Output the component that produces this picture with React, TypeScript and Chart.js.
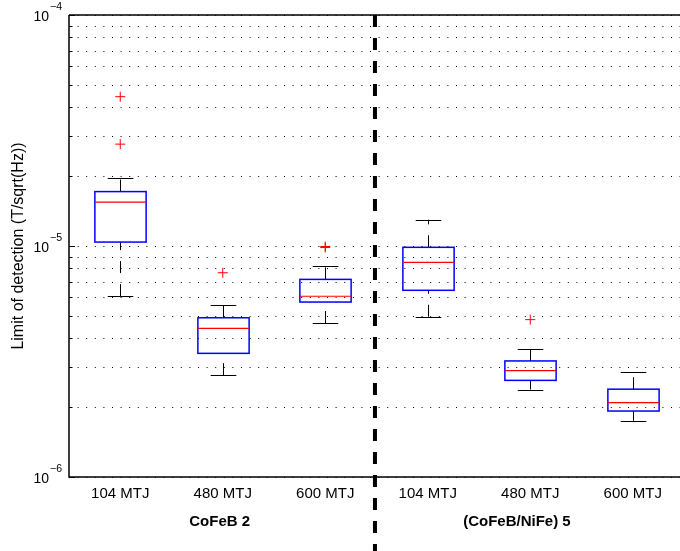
import React, { useEffect, useRef } from 'react';
import { Chart, registerables } from 'chart.js';

Chart.register(...registerables);

// ---------- data ----------
const categories = ['104 MTJ', '480 MTJ', '600 MTJ', '104 MTJ', '480 MTJ', '600 MTJ'];
const groups = ['CoFeB 2', '(CoFeB/NiFe) 5'];
const whiskerLow = [6.07e-6, 2.76e-6, 4.64e-6, 4.94e-6, 2.39e-6, 1.75e-6];
const q1 = [1.04e-5, 3.43e-6, 5.72e-6, 6.43e-6, 2.62e-6, 1.93e-6];
const median = [1.55e-5, 4.4e-6, 6.06e-6, 8.5e-6, 2.89e-6, 2.1e-6];
const q3 = [1.72e-5, 4.89e-6, 7.17e-6, 9.87e-6, 3.18e-6, 2.4e-6];
const whiskerHigh = [1.96e-5, 5.55e-6, 8.17e-6, 1.3e-5, 3.58e-6, 2.84e-6];
const outlierCategory = [0, 0, 1, 2, 2, 4];
const outlierValue = [4.43e-5, 2.76e-5, 7.66e-6, 9.85e-6, 9.95e-6, 4.8e-6];
const yMajorTicks = [1e-6, 1e-5, 1e-4];
const yMajorExponents = ['−6', '−5', '−4'];
const yGridValues = [
  1e-6, 2e-6, 3e-6, 4e-6, 5e-6, 6e-6, 7e-6, 8e-6, 9e-6,
  1e-5, 2e-5, 3e-5, 4e-5, 5e-5, 6e-5, 7e-5, 8e-5, 9e-5, 1e-4,
];
const yTitle = 'Limit of detection (T/sqrt(Hz))';

// ---------- layout constants ----------
const FONT = "'Liberation Sans', Arial, Helvetica, sans-serif";
const GROUP_LABEL_AT = [0.97, 3.87];
const SEPARATOR_AT = 2.485;

const boxPlugin = {
  id: 'boxplotDraw',
  beforeDatasetsDraw(chart: any) {
    const { ctx, chartArea: a, scales } = chart;
    const x = scales.x;
    const y = scales.y;
    ctx.save();
    // dotted grid
    ctx.strokeStyle = '#000';
    ctx.lineWidth = 1;
    ctx.setLineDash([1, 7.6]);
    for (const v of yGridValues) {
      const py = Math.round(y.getPixelForValue(v)) + 0.5;
      ctx.beginPath();
      ctx.moveTo(a.left, py);
      ctx.lineTo(a.right, py);
      ctx.stroke();
    }
    ctx.setLineDash([]);
    // inner ticks on left axis
    for (const v of yGridValues) {
      const py = Math.round(y.getPixelForValue(v)) + 0.5;
      const len = yMajorTicks.includes(v) ? 6 : 3.5;
      ctx.beginPath();
      ctx.moveTo(a.left, py);
      ctx.lineTo(a.left + len, py);
      ctx.stroke();
    }
    // boxes
    categories.forEach((_, i) => {
      const cx = Math.round(x.getPixelForValue(i)) + 0.5;
      const half = x.getPixelForValue(i + 0.25) - x.getPixelForValue(i);
      const capHalf = half / 2;
      const pLow = y.getPixelForValue(whiskerLow[i]);
      const pQ1 = y.getPixelForValue(q1[i]);
      const pMed = y.getPixelForValue(median[i]);
      const pQ3 = y.getPixelForValue(q3[i]);
      const pHigh = y.getPixelForValue(whiskerHigh[i]);
      // whiskers (dashed, drawn upward)
      ctx.strokeStyle = '#000';
      ctx.lineWidth = 1;
      ctx.setLineDash([12, 11]);
      ctx.beginPath();
      ctx.moveTo(cx, pLow);
      ctx.lineTo(cx, pQ1);
      ctx.stroke();
      ctx.beginPath();
      ctx.moveTo(cx, pQ3);
      ctx.lineTo(cx, pHigh);
      ctx.stroke();
      ctx.setLineDash([]);
      // caps
      ctx.beginPath();
      ctx.moveTo(cx - capHalf, Math.round(pLow) + 0.5);
      ctx.lineTo(cx + capHalf, Math.round(pLow) + 0.5);
      ctx.moveTo(cx - capHalf, Math.round(pHigh) + 0.5);
      ctx.lineTo(cx + capHalf, Math.round(pHigh) + 0.5);
      ctx.stroke();
      // box
      ctx.strokeStyle = '#0000ff';
      ctx.lineWidth = 1.5;
      ctx.strokeRect(cx - half, pQ3, half * 2, pQ1 - pQ3);
      // median
      ctx.strokeStyle = '#ff0000';
      ctx.lineWidth = 1.2;
      ctx.beginPath();
      ctx.moveTo(cx - half, pMed);
      ctx.lineTo(cx + half, pMed);
      ctx.stroke();
    });
    ctx.restore();
  },
  afterDraw(chart: any) {
    const { ctx, chartArea: a, scales } = chart;
    const x = scales.x;
    const y = scales.y;
    ctx.save();
    // axes
    ctx.strokeStyle = '#000';
    ctx.lineWidth = 1.5;
    ctx.beginPath();
    ctx.moveTo(a.left, a.top);
    ctx.lineTo(a.right, a.top);
    ctx.moveTo(a.left, a.top);
    ctx.lineTo(a.left, a.bottom);
    ctx.lineTo(a.right, a.bottom);
    ctx.stroke();
    // separator
    const sx = x.getPixelForValue(SEPARATOR_AT);
    ctx.lineWidth = 4;
    ctx.setLineDash([12, 11]);
    ctx.beginPath();
    ctx.moveTo(sx, a.top);
    ctx.lineTo(sx, chart.height);
    ctx.stroke();
    ctx.setLineDash([]);
    // x labels
    ctx.fillStyle = '#000';
    ctx.textAlign = 'center';
    ctx.textBaseline = 'middle';
    ctx.font = `15px ${FONT}`;
    categories.forEach((c, i) => {
      ctx.fillText(c, x.getPixelForValue(i), a.bottom + 17);
    });
    ctx.font = `bold 15px ${FONT}`;
    groups.forEach((g, i) => {
      ctx.fillText(g, x.getPixelForValue(GROUP_LABEL_AT[i]), a.bottom + 45);
    });
    // y tick labels
    ctx.textBaseline = 'alphabetic';
    yMajorTicks.forEach((v, i) => {
      const py = y.getPixelForValue(v);
      ctx.font = `14px ${FONT}`;
      ctx.textAlign = 'right';
      ctx.fillText('10', a.left - 20, py + 5.5);
      ctx.font = `10.5px ${FONT}`;
      ctx.textAlign = 'left';
      ctx.fillText(yMajorExponents[i], a.left - 19, py - 5);
    });
    // y title
    ctx.translate(18.5, (a.top + a.bottom) / 2);
    ctx.rotate(-Math.PI / 2);
    ctx.textAlign = 'center';
    ctx.textBaseline = 'middle';
    ctx.font = `16px ${FONT}`;
    ctx.fillText(yTitle, 0, 0);
    ctx.restore();
  },
};

export default function App() {
  const ref = useRef<HTMLCanvasElement | null>(null);
  useEffect(() => {
    if (!ref.current) return;
    const chart = new Chart(ref.current, {
      type: 'scatter',
      data: {
        datasets: [
          {
            data: outlierCategory.map((c, i) => ({ x: c, y: outlierValue[i] })),
            pointStyle: 'cross',
            radius: 5,
            borderColor: '#ff0000',
            backgroundColor: '#ff0000',
            borderWidth: 1,
          },
        ],
      },
      options: {
        responsive: false,
        animation: false,
        events: [],
        layout: { padding: { left: 69, top: 15, right: 3.5, bottom: 74 } },
        plugins: { legend: { display: false }, tooltip: { enabled: false } },
        scales: {
          x: { type: 'linear', min: -0.5, max: 5.5, display: false },
          y: { type: 'logarithmic', min: 1e-6, max: 1e-4, display: false },
        },
      },
      plugins: [boxPlugin],
    } as any);
    return () => chart.destroy();
  }, []);
  return (
    <div style={{ position: 'fixed', left: 0, top: 0, width: 680, height: 551, overflow: 'hidden', background: '#fff' }}>
      <canvas ref={ref} width={690} height={551} style={{ width: 690, height: 551, display: 'block' }} />
    </div>
  );
}
